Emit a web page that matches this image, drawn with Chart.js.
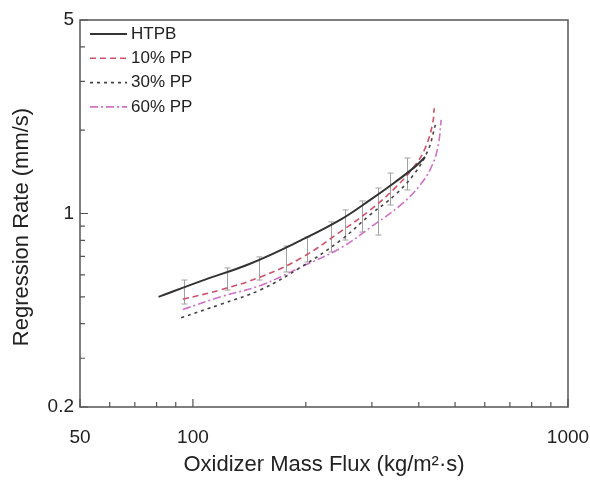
<!DOCTYPE html>
<html>
<head>
<meta charset="utf-8">
<script src="https://cdn.jsdelivr.net/npm/chart.js@4.4.0/dist/chart.umd.min.js"></script>
<style>
  html, body { margin: 0; padding: 0; background: #fff; }
</style>
</head>
<body>
<canvas id="myChart" width="590" height="486"></canvas>
<script>
// datos (flujo kg/m2 s , regresion mm/s)
var htpbFlux = [81, 105, 142.5, 194, 247.5, 297, 346.5, 392, 416];
var htpbRate = [0.50, 0.57, 0.66, 0.80, 0.95, 1.12, 1.30, 1.48, 1.60];

var pp10Flux = [94, 118.6, 151.5, 194, 247.5, 297, 346.5, 392, 416, 435, 440];
var pp10Rate = [0.49, 0.53, 0.59, 0.69, 0.86, 1.03, 1.24, 1.50, 1.72, 2.09, 2.40];

var pp30Flux = [93, 118.6, 151.5, 194, 247.5, 297, 346.5, 392, 424, 443];
var pp30Rate = [0.42, 0.47, 0.53, 0.64, 0.80, 0.99, 1.17, 1.41, 1.70, 2.09];

var pp60Flux = [94, 118.6, 151.5, 194, 247.5, 297, 357, 404, 435, 451, 459];
var pp60Rate = [0.45, 0.50, 0.55, 0.64, 0.75, 0.89, 1.07, 1.27, 1.50, 1.77, 2.18];

// barras de error
var errFlux = [94.6, 123, 150, 177, 202, 233, 255, 283, 312, 336, 373];
var errLow  = [0.471, 0.529, 0.575, 0.615, 0.668, 0.726, 0.802, 0.857, 0.836, 1.073, 1.216];
var errHigh = [0.575, 0.636, 0.697, 0.763, 0.822, 0.932, 1.03, 1.11, 1.236, 1.40, 1.587];

var xTicks = [50, 60, 70, 80, 90, 100, 200, 300, 400, 500, 600, 700, 800, 900, 1000];
var xLabels = [50, 100, 1000];
var yTicks = [0.2, 0.3, 0.4, 0.5, 0.6, 0.7, 0.8, 0.9, 1, 2, 3, 4, 5];
var yLabels = [0.2, 1, 5];

var FONT = 'Liberation Sans, Arial, sans-serif';

function puntos(xs, ys){
    var p = [];
    for(var i = 0; i < xs.length; i++){
        p.push({x: xs[i], y: ys[i]});
    }
    return p;
}

// marco, ticks hacia adentro, barras de error, titulo Y y leyenda
var extras = {
    id: 'extras',
    beforeDatasetsDraw: function(chart){
        var ctx = chart.ctx;
        var xs = chart.scales.x, ys = chart.scales.y;
        ctx.save();
        ctx.strokeStyle = '#a0a0a0';
        ctx.lineWidth = 1;
        for(var i = 0; i < errFlux.length; i++){
            var px = Math.round(xs.getPixelForValue(errFlux[i])) + 0.5;
            var y1 = ys.getPixelForValue(errLow[i]);
            var y2 = ys.getPixelForValue(errHigh[i]);
            ctx.beginPath();
            ctx.moveTo(px, y1); ctx.lineTo(px, y2);
            ctx.moveTo(px - 3, y1); ctx.lineTo(px + 3, y1);
            ctx.moveTo(px - 3, y2); ctx.lineTo(px + 3, y2);
            ctx.stroke();
        }
        ctx.restore();
    },
    afterDraw: function(chart){
        var ctx = chart.ctx;
        var a = chart.chartArea;
        var xs = chart.scales.x, ys = chart.scales.y;
        ctx.save();
        ctx.strokeStyle = '#555';
        ctx.lineWidth = 1.5;
        ctx.strokeRect(a.left, a.top, a.right - a.left, a.bottom - a.top);
        ctx.lineWidth = 1.2;
        ctx.beginPath();
        for(var i = 0; i < xTicks.length; i++){
            var px = xs.getPixelForValue(xTicks[i]);
            var len = xLabels.indexOf(xTicks[i]) >= 0 ? 8 : 5;
            ctx.moveTo(px, a.bottom); ctx.lineTo(px, a.bottom - len);
        }
        for(var j = 0; j < yTicks.length; j++){
            var py = ys.getPixelForValue(yTicks[j]);
            var len2 = yLabels.indexOf(yTicks[j]) >= 0 ? 8 : 5;
            ctx.moveTo(a.left, py); ctx.lineTo(a.left + len2, py);
        }
        ctx.stroke();

        // titulo del eje Y
        ctx.save();
        ctx.translate(22, 227);
        ctx.rotate(-Math.PI / 2);
        ctx.font = '22px ' + FONT;
        ctx.fillStyle = '#222';
        ctx.textAlign = 'center';
        ctx.textBaseline = 'middle';
        ctx.fillText('Regression Rate (mm/s)', 0, 0);
        ctx.restore();

        // leyenda
        ctx.font = '17px ' + FONT;
        ctx.textBaseline = 'middle';
        ctx.fillStyle = '#222';
        var ds = chart.data.datasets;
        for(var k = 0; k < ds.length; k++){
            var ly = 34 + k * 24.3;
            ctx.strokeStyle = ds[k].borderColor;
            ctx.lineWidth = ds[k].borderWidth;
            ctx.setLineDash(ds[k].borderDash || []);
            ctx.beginPath();
            ctx.moveTo(90, ly); ctx.lineTo(127, ly);
            ctx.stroke();
            ctx.setLineDash([]);
            ctx.fillText(ds[k].label, 131, ly);
        }
        ctx.restore();
    }
};

var ctx = document.getElementById('myChart').getContext('2d');
var myChart = new Chart(ctx, {
    type: 'scatter',
    data: {
        datasets: [{
            label: 'HTPB',
            data: puntos(htpbFlux, htpbRate),
            borderColor: '#333333',
            borderWidth: 2,
            showLine: true,
            tension: 0.4
        },{
            label: '10% PP',
            data: puntos(pp10Flux, pp10Rate),
            borderColor: '#d0506a',
            borderWidth: 1.6,
            borderDash: [6, 4],
            showLine: true,
            tension: 0.4
        },{
            label: '30% PP',
            data: puntos(pp30Flux, pp30Rate),
            borderColor: '#444444',
            borderWidth: 1.6,
            borderDash: [3, 4],
            showLine: true,
            tension: 0.4
        },{
            label: '60% PP',
            data: puntos(pp60Flux, pp60Rate),
            borderColor: '#d070c8',
            borderWidth: 1.6,
            borderDash: [8, 3, 2, 3],
            showLine: true,
            tension: 0.4
        }]
    },
    options: {
        responsive: false,
        animation: false,
        layout: { padding: { top: 20, right: 22, left: 0, bottom: 0 } },
        elements: { point: { radius: 0 } },
        plugins: {
            legend: { display: false },
            tooltip: { enabled: false }
        },
        scales: {
            x: {
                type: 'logarithmic',
                min: 50,
                max: 1000,
                afterBuildTicks: function(scale){
                    scale.ticks = xTicks.map(function(v){ return {value: v}; });
                },
                afterFit: function(scale){
                    scale.height = 79;
                    scale.paddingLeft = 0;
                    scale.paddingRight = 0;
                },
                ticks: {
                    autoSkip: false,
                    maxRotation: 0,
                    padding: 11,
                    color: '#222',
                    font: { family: FONT, size: 19 },
                    callback: function(v){ return xLabels.indexOf(v) >= 0 ? String(v) : ''; }
                },
                grid: { display: false },
                border: { display: false },
                title: {
                    display: true,
                    text: 'Oxidizer Mass Flux (kg/m\u00b2\u00b7s)',
                    color: '#222',
                    font: { family: FONT, size: 22 },
                    padding: { top: 4, bottom: 8 }
                }
            },
            y: {
                type: 'logarithmic',
                min: 0.2,
                max: 5,
                afterBuildTicks: function(scale){
                    scale.ticks = yTicks.map(function(v){ return {value: v}; });
                },
                afterFit: function(scale){ scale.width = 80; },
                ticks: {
                    autoSkip: false,
                    padding: 6,
                    color: '#222',
                    font: { family: FONT, size: 19 },
                    callback: function(v){ return yLabels.indexOf(v) >= 0 ? String(v) : ''; }
                },
                grid: { display: false, drawTicks: false },
                border: { display: false },
                title: { display: false }
            }
        }
    },
    plugins: [extras]
});
</script>
</body>
</html>
